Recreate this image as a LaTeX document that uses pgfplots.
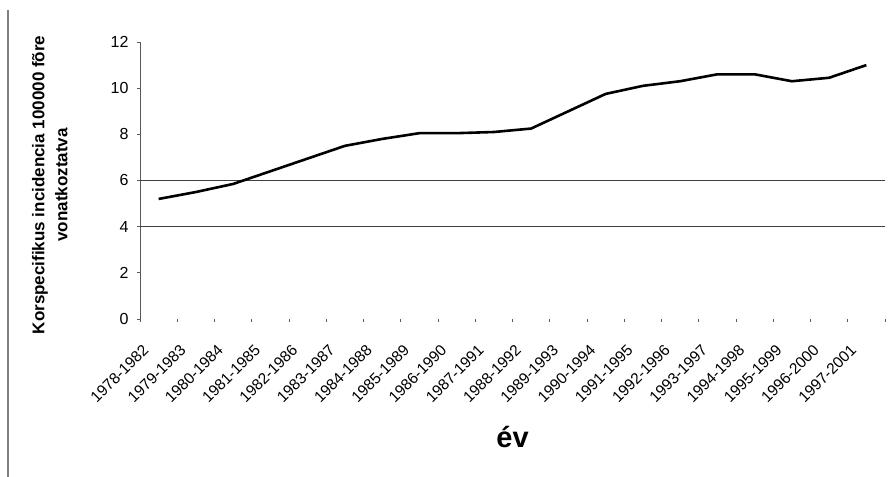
\documentclass[border=0pt]{standalone}
\usepackage{fontspec}
\setmainfont{Liberation Sans}
\usepackage{pgfplots}
\pgfplotsset{compat=1.18}
\begin{document}
\begin{tikzpicture}[x=1bp,y=1bp]
\useasboundingbox (0,0) rectangle (892,477);
% frame line at the left edge
\draw[gray, line width=1.5bp] (8,0) -- (8,467);
\begin{axis}[
  at={(140bp,158bp)}, anchor=south west,
  scale only axis, width=745bp, height=277bp,
  xmin=-0.5, xmax=19.5, ymin=0, ymax=12,
  axis lines*=left,
  x axis line style={draw=none},
  y axis line style={draw=gray!70!black, line width=1bp},
  /pgf/number format/assume math mode=true,
  ytick={0,2,...,12},
  xtick={0,...,19},
  xticklabels={1978-1982,1979-1983,1980-1984,1981-1985,1982-1986,1983-1987,1984-1988,1985-1989,1986-1990,1987-1991,1988-1992,1989-1993,1990-1994,1991-1995,1992-1996,1993-1997,1994-1998,1995-1999,1996-2000,1997-2001},
  minor xtick={-0.5,0.5,...,19.5},
  tick align=outside,
  major tick length=3bp, minor tick length=3bp,
  major x tick style={draw=none},
  minor x tick style={draw=gray!70!black, line width=0.8bp},
  major y tick style={draw=gray!70!black, line width=0.8bp},
  extra y ticks={4,6}, extra y tick labels={},
  extra y tick style={grid=major, major grid style={draw=black!75, line width=1bp}, major tick length=0bp},
  yticklabel style={font=\fontsize{16bp}{19bp}\selectfont, xshift=-5bp},
  xticklabel style={font=\fontsize{15.5bp}{18bp}\selectfont, xshift=-10.5bp, yshift=-23bp, rotate=45, anchor=east},
  ylabel={Korspecifikus incidencia 100000 fõre\\vonatkoztatva},
  ylabel style={font=\bfseries\fontsize{17bp}{23bp}\selectfont, align=center, rotate=0, at={(axis description cs:-0.121,0.484)}, anchor=center},
  xlabel={év},
  xlabel style={font=\bfseries\fontsize{29bp}{32bp}\selectfont, at={(axis description cs:0.5,-0.426)}, anchor=center},
]
\addplot[black, line width=2.6bp, line join=round] coordinates {
  (0,5.2) (1,5.5) (2,5.85) (3,6.4) (4,6.95) (5,7.5) (6,7.8) (7,8.05)
  (8,8.05) (9,8.1) (10,8.25) (11,9.0) (12,9.75) (13,10.1) (14,10.3)
  (15,10.6) (16,10.6) (17,10.3) (18,10.45) (19,11.0)
};
\end{axis}
\end{tikzpicture}
\end{document}
